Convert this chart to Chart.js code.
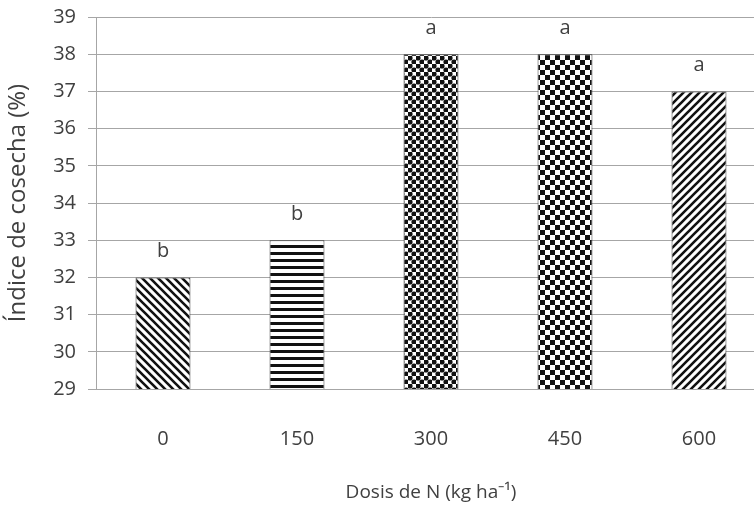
<!DOCTYPE html>
<html>
<head>
<meta charset="utf-8">
<script src="https://cdn.jsdelivr.net/npm/chart.js@4.4.1/dist/chart.umd.min.js"></script>
<style>
  html, body { margin: 0; padding: 0; background: #fff; overflow: hidden; }
</style>
</head>
<body>
<canvas id="icChart" width="770" height="505"></canvas>
<script>
const doses = ["0", "150", "300", "450", "600"];
const harvestIndex = [32, 33, 38, 38, 37];
const letters = ["b", "b", "a", "a", "a"];
const patternKinds = ["backslash", "horizontal", "dots", "checker", "slash"];

const gridGray = "#a6a6a6";
const textGray = "#404040";
const font = "'Open Sans', sans-serif";

function makePattern(kind) {
  const c = document.createElement("canvas");
  const g = c.getContext("2d");
  let s = 8;
  if (kind === "horizontal") s = 7;
  if (kind === "checker") s = 10;
  c.width = s; c.height = s;
  g.fillStyle = "#fff";
  g.fillRect(0, 0, s, s);
  g.fillStyle = "#111";
  g.strokeStyle = "#111";
  if (kind === "backslash" || kind === "slash") {
    g.lineWidth = 2.6;
    g.beginPath();
    if (kind === "backslash") {
      g.moveTo(-2, -2); g.lineTo(s + 2, s + 2);
      g.moveTo(-2, s - 2); g.lineTo(2, s + 2);
      g.moveTo(s - 2, -2); g.lineTo(s + 2, 2);
    } else {
      g.moveTo(-2, s + 2); g.lineTo(s + 2, -2);
      g.moveTo(-2, 2); g.lineTo(2, -2);
      g.moveTo(s - 2, s + 2); g.lineTo(s + 2, s - 2);
    }
    g.stroke();
  } else if (kind === "horizontal") {
    g.fillRect(0, 0, s, 3);
  } else if (kind === "dots") {
    [[2, 2], [6, 6]].forEach(p => {
      g.beginPath();
      g.arc(p[0], p[1], 2.6, 0, Math.PI * 2);
      g.fill();
    });
  } else if (kind === "checker") {
    g.fillRect(0, 0, 5, 5);
    g.fillRect(5, 5, 5, 5);
  }
  return g.createPattern(c, "repeat");
}

const letterLabels = {
  id: "letterLabels",
  afterDatasetsDraw(chart) {
    const ctx = chart.ctx;
    const meta = chart.getDatasetMeta(0);
    ctx.save();
    ctx.font = "20px " + font;
    ctx.fillStyle = textGray;
    ctx.textAlign = "center";
    ctx.textBaseline = "middle";
    meta.data.forEach((bar, i) => {
      ctx.fillText(letters[i], bar.x, bar.y - 26);
    });
    ctx.restore();
  }
};

new Chart(document.getElementById("icChart"), {
  type: "bar",
  data: {
    labels: doses,
    datasets: [{
      data: harvestIndex,
      backgroundColor: patternKinds.map(makePattern),
      borderColor: "#3a3a3a",
      borderWidth: 1,
      barPercentage: 0.41,
      categoryPercentage: 1
    }]
  },
  options: {
    responsive: false,
    animation: false,
    devicePixelRatio: 1,
    layout: { padding: { top: 17, right: 4, left: 0, bottom: 0 } },
    plugins: {
      legend: { display: false },
      tooltip: { enabled: false }
    },
    scales: {
      y: {
        min: 29,
        max: 39,
        afterFit(scale) {
          scale.width = 96;
          scale.paddingTop = 0;
          scale.paddingBottom = 0;
        },
        ticks: {
          stepSize: 1,
          padding: 12,
          color: textGray,
          font: { family: font, size: 20 }
        },
        grid: { color: gridGray, tickLength: 8, lineWidth: 1 },
        border: { display: true, color: gridGray },
        title: {
          display: true,
          text: "Índice de cosecha (%)",
          color: textGray,
          padding: { top: 4, bottom: 0 },
          font: { family: font, size: 24 }
        }
      },
      x: {
        afterFit(scale) { scale.height = 116; },
        ticks: {
          padding: 38,
          color: textGray,
          font: { family: font, size: 20 }
        },
        grid: { display: false, drawTicks: false },
        border: { display: true, color: gridGray },
        title: {
          display: true,
          text: "Dosis de N (kg ha⁻¹)",
          color: textGray,
          padding: { top: 0, bottom: 1 },
          font: { family: font, size: 19 }
        }
      }
    }
  },
  plugins: [letterLabels]
});
</script>
</body>
</html>
